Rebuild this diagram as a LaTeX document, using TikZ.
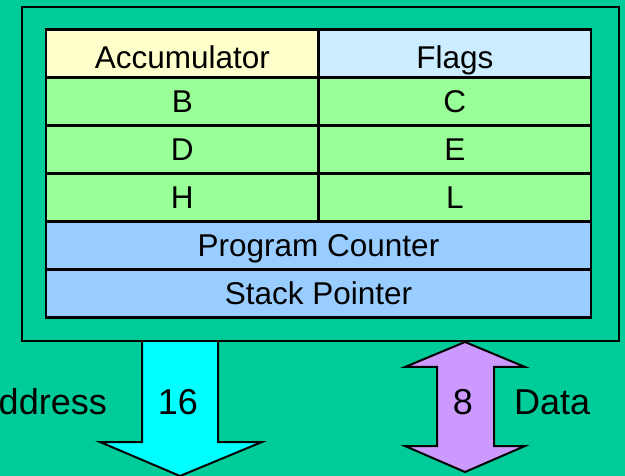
\documentclass[tikz,border=0pt]{standalone}
\usepackage{fontspec}
\setmainfont{Liberation Sans}
\definecolor{bgc}{HTML}{00CC99}
\definecolor{accc}{HTML}{FFFFCC}
\definecolor{flgc}{HTML}{CCECFF}
\definecolor{regc}{HTML}{99FF99}
\definecolor{ptrc}{HTML}{99CCFF}
\definecolor{addrc}{HTML}{00FFFF}
\definecolor{datac}{HTML}{CC99FF}
\begin{document}
\begin{tikzpicture}[x=1pt,y=-1pt,
  halfcell/.style={draw=black,line width=2.5pt,rectangle,minimum width=272.5pt,minimum height=48pt,inner sep=0pt,outer sep=0pt},
  fullcell/.style={draw=black,line width=2.5pt,rectangle,minimum width=545pt,minimum height=48pt,inner sep=0pt,outer sep=0pt},
  lbl/.style={anchor=base,inner sep=0pt,font=\fontsize{31.5}{36}\selectfont},
  biglbl/.style={anchor=base,inner sep=0pt,font=\fontsize{36}{42}\selectfont},
  busarrow/.style={draw=black,line width=2pt,line join=miter}]
\useasboundingbox (0,0) rectangle (625,476);
\fill[bgc] (0,0) rectangle (625,476);
% bus arrows
\draw[busarrow,fill=addrc] (142,341) -- (218,341) -- (218,442) -- (262,442) -- (180,476) -- (100,442) -- (142,442) -- cycle;
\draw[busarrow,fill=datac] (465,342) -- (525,367) -- (494,367) -- (494,446) -- (525,446) -- (465,472) -- (405,446) -- (437,446) -- (437,367) -- (405,367) -- cycle;
% outer box
\draw[line width=2pt,fill=bgc] (22,7) rectangle (619,341);
% register cells
\node[halfcell,fill=accc] (acc) at (182.3,53.3) {};
\node[halfcell,fill=flgc] (flg) at (454.8,53.3) {};
\node[halfcell,fill=regc] (rb) at (182.3,101.3) {};
\node[halfcell,fill=regc] (rc) at (454.8,101.3) {};
\node[halfcell,fill=regc] (rd) at (182.3,149.3) {};
\node[halfcell,fill=regc] (re) at (454.8,149.3) {};
\node[halfcell,fill=regc] (rh) at (182.3,197.3) {};
\node[halfcell,fill=regc] (rl) at (454.8,197.3) {};
\node[fullcell,fill=ptrc] (pc) at (318.5,245.3) {};
\node[fullcell,fill=ptrc] (sp) at (318.5,293.3) {};
% labels
\node[lbl] (tacc) at ([yshift=-15.7pt]acc.center) {Accumulator};
\node[lbl] (tflg) at ([yshift=-15.7pt]flg.center) {Flags};
\node[lbl] (tb) at ([yshift=-11pt]rb.center) {B};
\node[lbl] (tc) at ([yshift=-11pt]rc.center) {C};
\node[lbl] (td) at ([yshift=-11pt]rd.center) {D};
\node[lbl] (te) at ([yshift=-11pt]re.center) {E};
\node[lbl] (th) at ([yshift=-11pt]rh.center) {H};
\node[lbl] (tl) at ([yshift=-11pt]rl.center) {L};
\node[lbl] (tpc) at ([yshift=-11pt]pc.center) {Program Counter};
\node[lbl] (tsp) at ([yshift=-11pt]sp.center) {Stack Pointer};
% bus labels
\node[biglbl,anchor=base east] (taddr) at (107,414) {Address};
\node[biglbl] (t16) at (178,414) {16};
\node[biglbl] (t8) at (463,414) {8};
\node[biglbl,anchor=base west] (tdata) at (514,414) {Data};
\end{tikzpicture}
\end{document}
